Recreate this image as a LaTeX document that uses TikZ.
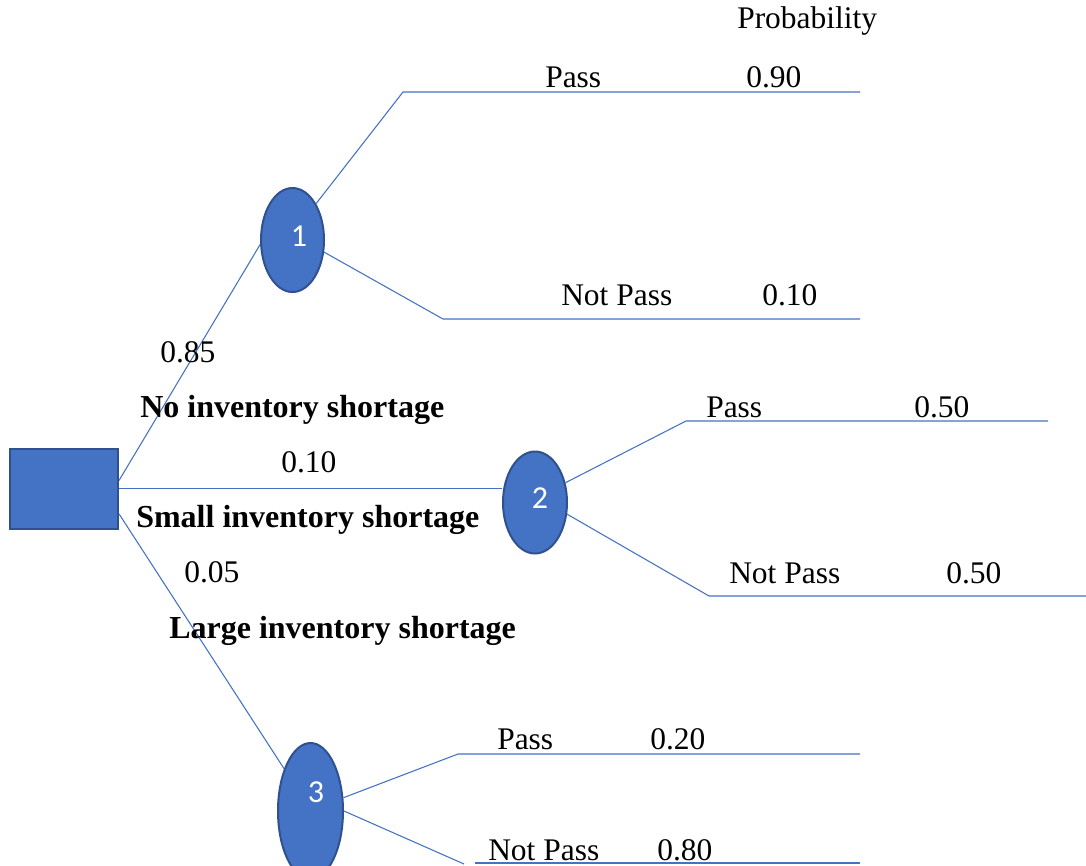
\documentclass[tikz,border=0pt]{standalone}
\usepackage{fontspec}
\setmainfont{Liberation Serif}
\newfontfamily\numfont{Carlito}
\usetikzlibrary{shapes.geometric}
\definecolor{lineblue}{HTML}{4472C4}
\definecolor{fillblue}{HTML}{4472C4}
\definecolor{edgeblue}{HTML}{2F528F}
\tikzset{
  conn/.style={draw=lineblue, line width=0.8pt},
  chance/.style={ellipse, fill=fillblue, draw=edgeblue, line width=1.5pt, inner sep=0pt},
  decisionbox/.style={rectangle, fill=fillblue, draw=edgeblue, line width=1.5pt, inner sep=0pt, minimum width=81pt, minimum height=60pt},
  txt/.style={anchor=base west, inner sep=0pt, font=\fontsize{23.6}{28}\selectfont},
  btxt/.style={anchor=base west, inner sep=0pt, font=\fontsize{24}{28}\selectfont\bfseries},
  num/.style={inner sep=0pt, text=white, font=\numfont\fontsize{24}{28}\selectfont},
}
\begin{document}
\begin{tikzpicture}[x=0.75pt, y=-0.75pt]
\clip (0,0) rectangle (1086,865);
\fill[white] (0,0) rectangle (1086,865);

% decision box
\node[decisionbox] (r) at (64,488.5) {};

% chance nodes
\node[chance, minimum width=47.25pt, minimum height=78pt] (e1) at (292.5,240) {};
\node[chance, minimum width=48pt, minimum height=76.5pt] (e2) at (535,502.5) {};
\node[chance, minimum width=48.75pt, minimum height=102pt] (e3) at (310.5,811) {};
\node[num] (n1) at (299,236) {1};
\node[num] (n2) at (540,498) {2};
\node[num] (n3) at (316,792) {3};

% coordinates
\coordinate (ra) at ([yshift=6pt]r.east);
\coordinate (rc) at ([yshift=-19pt]r.east);
\coordinate (b1) at (403,92);  \coordinate (t1) at (860,92);
\coordinate (b2) at (443,319); \coordinate (t2) at (860,319);
\coordinate (b3) at (686,421); \coordinate (t3) at (1048,421);
\coordinate (b4) at (709,596); \coordinate (t4) at (1086,596);
\coordinate (b5) at (458,754); \coordinate (t5) at (860,754);
\coordinate (b6) at (464,864); \coordinate (s6) at (475,863); \coordinate (t6) at (860,863);

% main branches
\draw[conn] (ra) -- (e1.188);
\draw[conn] (r.east) -- (r.east -| e2.west);
\draw[conn] (rc) -- (e3.122);

% outcome branches
\draw[conn] (e1.57) -- (b1) -- (t1);
\draw[conn] (e1.-21) -- (b2) -- (t2);
\draw[conn] (e2.33) -- (b3) -- (t3);
\draw[conn] (e2.-20) -- (b4) -- (t4);
\draw[conn] (e3.22) -- (b5) -- (t5);
\draw[conn] (e3.0) -- (b6);
\draw[conn] (s6) -- (t6);

% texts
\node[txt] (prob) at (737,28) {Probability};
\node[txt] (p1) at (545,87) {Pass};
\node[txt] (v1) at (746,87) {0.90};
\node[txt] (np1) at (561,305) {Not Pass};
\node[txt] (v2) at (762,305) {0.10};
\node[txt] (a1) at (160,362) {0.85};
\node[btxt] (l1) at (140,417) {No inventory shortage};
\node[txt] (a2) at (281,472) {0.10};
\node[btxt] (l2) at (136,527) {Small inventory shortage};
\node[txt] (a3) at (184,582) {0.05};
\node[btxt] (l3) at (169,638) {Large inventory shortage};
\node[txt] (p2) at (706,417) {Pass};
\node[txt] (v3) at (914,417) {0.50};
\node[txt] (np2) at (729,583) {Not Pass};
\node[txt] (v4) at (946,583) {0.50};
\node[txt] (p3) at (497,749) {Pass};
\node[txt] (v5) at (650,749) {0.20};
\node[txt] (np3) at (488,860) {Not Pass};
\node[txt] (v6) at (657,860) {0.80};
\end{tikzpicture}
\end{document}
